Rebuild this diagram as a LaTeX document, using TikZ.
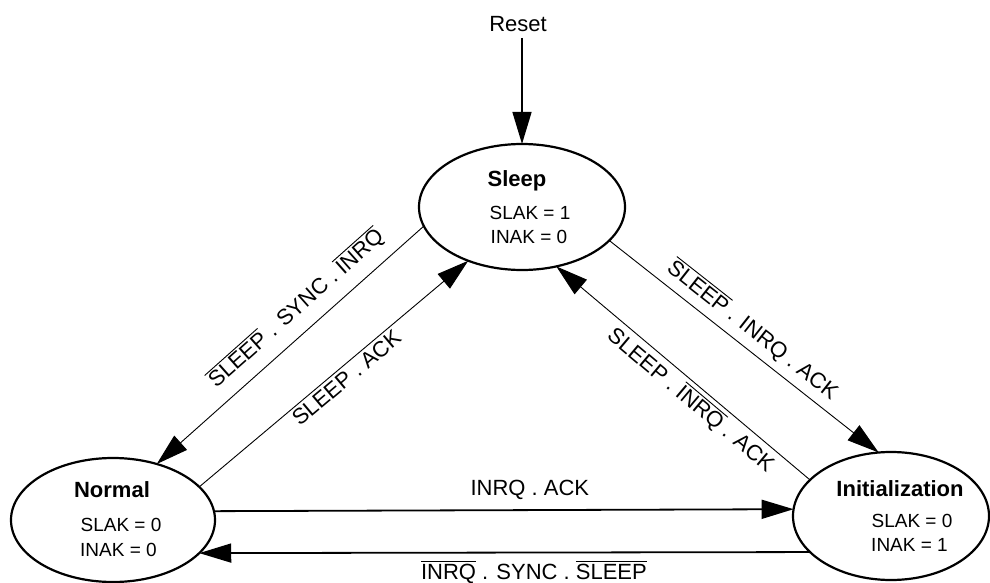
\documentclass[tikz,border=0pt]{standalone}
\usepackage{fontspec}
\setmainfont{Liberation Sans}
\usetikzlibrary{arrows.meta,shapes.geometric}
\newcommand{\ovl}[1]{\vbox{\hrule height 0.9pt\kern 1.8pt\hbox{#1}}}
\begin{document}
\begin{tikzpicture}[x=1pt,y=-1pt,
  state/.style={draw,ellipse,line width=2.2pt,inner sep=0pt,outer sep=0pt},
  title/.style={font=\fontsize{22}{26}\selectfont\bfseries,inner sep=0pt},
  val/.style={font=\fontsize{19}{22}\selectfont,inner sep=0pt},
  lbl/.style={font=\fontsize{22}{26}\selectfont,inner xsep=0pt},
  tip/.style={-{Triangle[length=32pt,width=19pt]}},
  diag/.style={tip,line width=0.9pt},
  horiz/.style={tip,line width=1.8pt}]
\useasboundingbox (0,0) rectangle (990,583);
% states
\node[state,minimum width=206pt,minimum height=126pt] (sleep) at (522,207) {};
\node[state,minimum width=204pt,minimum height=124pt] (normal) at (113,520) {};
\node[state,minimum width=196pt,minimum height=128pt] (init) at (891,516) {};
% state texts
\node[title] (tsleep) at (517,181) {Sleep};
\node[val] (sslak) at (530,212.5) {SLAK = 1};
\node[val] (sinak) at (529,236.5) {INAK = 0};
\node[title] (tnormal) at (112,490) {Normal};
\node[val] (nslak) at (121,525) {SLAK = 0};
\node[val] (ninak) at (118.5,550) {INAK = 0};
\node[title] (tinit) at (900,488.5) {Initialization};
\node[val] (islak) at (912,520.5) {SLAK = 0};
\node[val] (iinak) at (909.5,545) {INAK = 1};
\node[lbl,inner sep=0pt] (reset) at (518,24) {Reset};
% reset
\draw[tip,line width=1.4pt,shorten <=6pt] (reset.south -| sleep.north) -- (sleep.north);
% diagonals
\draw[diag] (sleep.191) -- node[lbl,sloped,anchor=south,inner ysep=12pt,pos=0.42] (l1) {\ovl{SLEEP} . SYNC . \ovl{INRQ}} (normal.52);
\draw[diag] (normal.21) -- node[lbl,sloped,anchor=north,inner ysep=3pt,pos=0.52] (l2) {SLEEP . ACK} (sleep.225);
\draw[diag] (sleep.339) -- node[lbl,sloped,anchor=south,inner ysep=7pt,pos=0.49] (l3) {\ovl{SLEEP} . INRQ . ACK} (init.101);
\draw[diag] (init.156) -- node[lbl,sloped,anchor=north,inner ysep=4pt,pos=0.43] (l4) {SLEEP . \ovl{INRQ} . ACK} (sleep.300);
% horizontals
\draw[horiz] (normal.5.38) -- node[lbl,anchor=south,inner ysep=9.5pt,pos=0.545] (l5) {INRQ . ACK} (init.176.78);
\draw[horiz] (init.204.39) -- node[lbl,anchor=north,inner ysep=8pt,pos=0.452] (l6) {\ovl{INRQ} . SYNC . \ovl{SLEEP}} (normal.339.5);
\end{tikzpicture}
\end{document}
